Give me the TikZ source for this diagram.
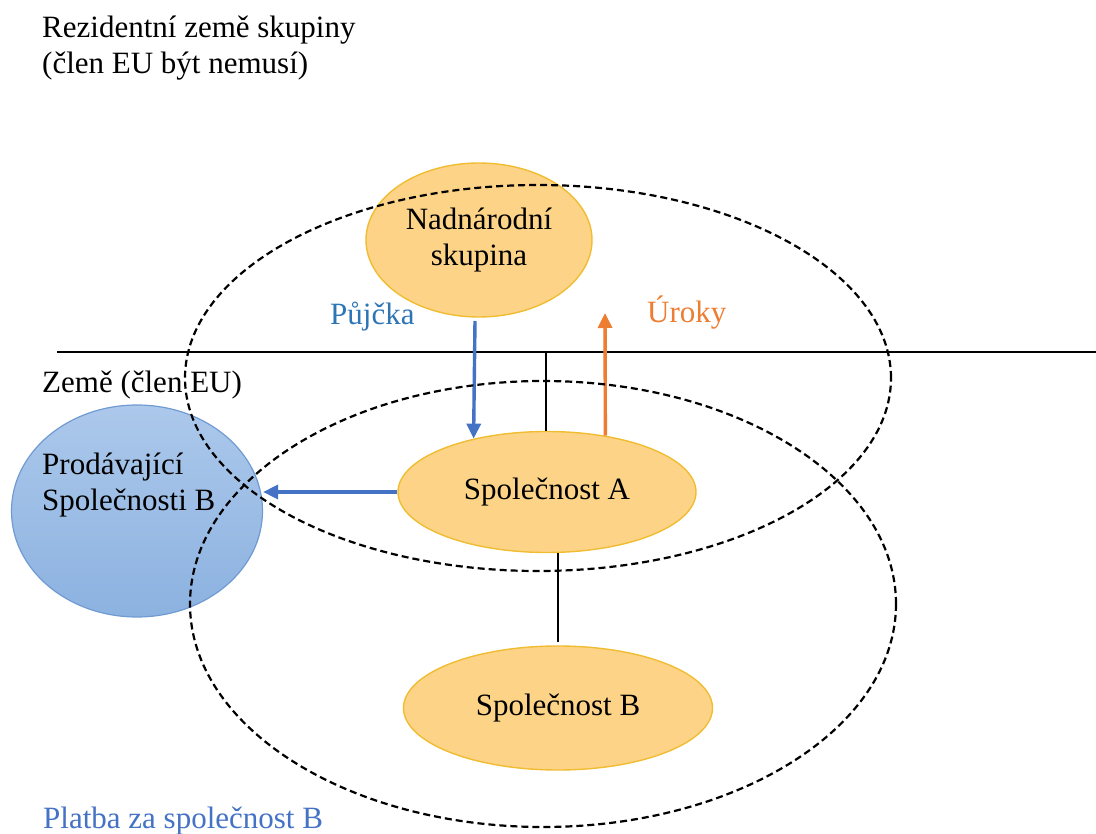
\documentclass[tikz,border=0pt]{standalone}
\usepackage{fontspec}
\setmainfont{Liberation Serif}
\definecolor{coGold}{RGB}{240, 188, 50}
\definecolor{coFill}{RGB}{253, 212, 135}
\definecolor{sellTop}{RGB}{172, 200, 235}
\definecolor{sellBot}{RGB}{140, 178, 224}
\definecolor{sellLine}{RGB}{112, 155, 210}
\definecolor{payBlue}{RGB}{68, 114, 196}
\definecolor{loanBlue}{RGB}{46, 117, 182}
\definecolor{intOrange}{RGB}{237, 125, 49}
\usetikzlibrary{positioning, shapes.geometric, arrows.meta}

\begin{document}
\begin{tikzpicture}[
    x=1pt, y=-1pt,
    bigtxt/.style={font=\fontsize{31}{36}\selectfont, inner sep=0pt},
    company/.style={ellipse, draw=coGold, fill=coFill, line width=1.4pt,
                    inner sep=0pt, align=center, font=\fontsize{31}{36}\selectfont},
    region/.style={ellipse, draw=black, line width=2.2pt,
                   dash pattern=on 7pt off 4pt, inner sep=0pt},
    flow/.style={line width=3.4pt, -{Triangle[length=15pt, width=14pt]}},
  ]
    \useasboundingbox (0,0) rectangle (1096,834);

    % Captions
    \node[bigtxt, anchor=west, align=left] (home) at (42,48)
      {\fontsize{31}{33}\selectfont Rezidentní země skupiny\\(člen EU být nemusí)};
    \node[bigtxt, anchor=base west] (eu) at (42,393) {Země (člen EU)};
    \node[bigtxt, anchor=base west, text=payBlue] (pay) at (43,828) {Platba za společnost B};

    % Companies
    \node[company, minimum width=226pt, minimum height=154pt] (group) at (479,240)
      {Nadnárodní\\skupina};
    \node[company, minimum width=298pt, minimum height=121pt] (compA) at (547,492)
      {Společnost A};
    \node[company, minimum width=309pt, minimum height=124pt] (compB) at (558,708)
      {Společnost B};

    % Seller
    \node[ellipse, draw=sellLine, line width=1.2pt, top color=sellTop, bottom color=sellBot,
          minimum width=251pt, minimum height=212pt] (seller) at (137,511) {};
    \node[bigtxt, anchor=west, align=left] (sellertxt) at (42,485)
      {\fontsize{31}{37}\selectfont Prodávající\\Společnosti B};

    % Border line
    \coordinate (lineL) at (57,352);
    \coordinate (lineR) at (1096,352);
    \coordinate (split) at (546,352);
    \draw[line width=1.4pt] (lineL) -- (lineR);
    \draw[line width=1.4pt] (split) -- (split |- compA.north);
    \draw[line width=1.4pt] (compB.north |- compA.south) -- ([yshift=3pt]compB.north);

    % Flows
    \coordinate (loanS) at (475,321);
    \coordinate (intE) at (605,313);
    \draw[flow, payBlue] (loanS) -- (compA.144);
    \draw[flow, intOrange] (compA.44) -- (intE);
    \draw[flow, payBlue] (compA.west) -- (compA.west -| seller.east);
    \node[bigtxt, anchor=base west, text=loanBlue] (loan) at (330,325) {Půjčka};
    \node[bigtxt, anchor=base west, text=intOrange] (interest) at (647,323) {Úroky};

    % Dashed country areas
    \node[region, minimum width=706pt, minimum height=386pt] (homeArea) at (538,378) {};
    \node[region, minimum width=706pt, minimum height=446pt] (euArea) at (543,604) {};
  \end{tikzpicture}
\end{document}
